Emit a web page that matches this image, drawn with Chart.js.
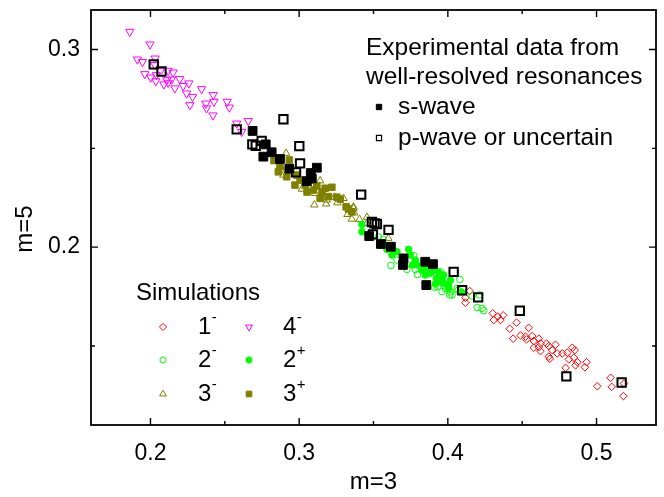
<!DOCTYPE html>
<html><head><meta charset="utf-8">
<script src="https://cdn.jsdelivr.net/npm/chart.js@4.4.1/dist/chart.umd.min.js"></script>
<style>html,body{margin:0;padding:0;background:#fff;}canvas{display:block;}</style>
</head><body>
<canvas id="c" width="664" height="497"></canvas>
<script>
// ---- axis ticks ----
const xMajorTicks = [0.2, 0.3, 0.4, 0.5];
const xMinorTicks = [0.25, 0.35, 0.45];
const yMajorTicks = [0.2, 0.3];
const yMinorTicks = [0.15, 0.25];
const xTitle = 'm=3';
const yTitle = 'm=5';

// ---- series: [m=3, m=5] ----
const sim1Minus = [[0.4147,0.1778],[0.4118,0.1744],[0.4118,0.1719],[0.4302,0.1665],[0.4336,0.1649],[0.4372,0.1655],[0.4309,0.1631],[0.4354,0.1631],[0.4462,0.1618],[0.4416,0.1587],[0.4544,0.1592],[0.4489,0.1553],[0.4522,0.1547],[0.4439,0.1537],[0.4567,0.1550],[0.4529,0.1533],[0.4578,0.1525],[0.4612,0.1537],[0.4623,0.1513],[0.4578,0.1491],[0.4612,0.1494],[0.4664,0.1512],[0.4679,0.1499],[0.4623,0.1474],[0.4702,0.1479],[0.4724,0.1506],[0.4736,0.1462],[0.4770,0.1462],[0.4803,0.1466],[0.4837,0.1491],[0.4854,0.1479],[0.4814,0.1432],[0.4848,0.1441],[0.4871,0.1418],[0.4859,0.1402],[0.4679,0.1446],[0.4686,0.1435],[0.4792,0.1389],[0.4922,0.1392],[0.4933,0.1418],[0.5095,0.1339],[0.5102,0.1293],[0.5005,0.1296],[0.5185,0.1310],[0.5181,0.1246]];
const sim2Minus = [[0.3617,0.1907],[0.3725,0.1887],[0.3781,0.1887],[0.3796,0.1861],[0.3770,0.1957],[0.3931,0.1800],[0.3949,0.1875],[0.4080,0.1837],[0.3983,0.1791],[0.4028,0.1758],[0.4069,0.1782],[0.4163,0.1753],[0.4197,0.1695],[0.4230,0.1690],[0.4017,0.1774],[0.3534,0.2052],[0.3658,0.1935],[0.3911,0.1797],[0.3961,0.1775],[0.4012,0.1758],[0.4062,0.1791],[0.4214,0.1758],[0.4241,0.1678],[0.3565,0.2039]];
const sim3Minus = [[0.2912,0.2475],[0.2876,0.2404],[0.2894,0.2365],[0.3018,0.2294],[0.3073,0.2303],[0.3141,0.2336],[0.3107,0.2272],[0.3152,0.2259],[0.3186,0.2239],[0.3237,0.2253],[0.3298,0.2247],[0.3102,0.2214],[0.3181,0.2219],[0.3257,0.2225],[0.3365,0.2197],[0.3325,0.2166],[0.3354,0.2142],[0.3406,0.2141],[0.3456,0.2151],[0.3365,0.2204],[0.3370,0.2174],[0.3456,0.2120],[0.3600,0.2045]];
const sim4Minus = [[0.1861,0.3090],[0.1997,0.3026],[0.1912,0.2950],[0.1946,0.2937],[0.2031,0.2955],[0.1962,0.2876],[0.2002,0.2859],[0.2040,0.2871],[0.2067,0.2891],[0.2119,0.2893],[0.2152,0.2884],[0.2090,0.2824],[0.2119,0.2832],[0.2142,0.2849],[0.2164,0.2804],[0.2197,0.2851],[0.2220,0.2816],[0.2258,0.2829],[0.2243,0.2778],[0.2283,0.2761],[0.2344,0.2800],[0.2265,0.2719],[0.2373,0.2727],[0.2377,0.2703],[0.2422,0.2770],[0.2427,0.2736],[0.2516,0.2736],[0.2530,0.2707],[0.2420,0.2667],[0.2580,0.2626],[0.2613,0.2584],[0.2658,0.2639],[0.2036,0.2840],[0.2110,0.2845],[0.2029,0.2922]];
const sim2Plus = [[0.3422,0.2115],[0.3422,0.2078],[0.3590,0.1989],[0.3624,0.1960],[0.3658,0.1977],[0.3736,0.1989],[0.3747,0.1960],[0.3781,0.1935],[0.3792,0.1910],[0.3826,0.1884],[0.3882,0.1868],[0.3923,0.1842],[0.3961,0.1837],[0.4005,0.1791],[0.3860,0.1896],[0.3904,0.1884],[0.3972,0.1859],[0.3916,0.1813],[0.3949,0.1824],[0.3972,0.1817],[0.4005,0.1808],[0.3949,0.1826],[0.4092,0.1773],[0.3761,0.1910],[0.3848,0.1859],[0.3936,0.1874],[0.4017,0.1833]];
const sim3Plus = [[0.2831,0.2438],[0.2860,0.2381],[0.2934,0.2441],[0.2916,0.2356],[0.3006,0.2339],[0.3040,0.2314],[0.3119,0.2310],[0.3175,0.2298],[0.3141,0.2247],[0.3220,0.2303],[0.3197,0.2256],[0.3253,0.2253],[0.3276,0.2243],[0.3332,0.2193],[0.3354,0.2179],[0.2984,0.2365],[0.3096,0.2289],[0.3316,0.2204],[0.2972,0.2314],[0.3073,0.2339],[0.3154,0.2279],[0.2871,0.2409],[0.3053,0.2279]];
const expSWave = [[0.2687,0.2588],[0.2775,0.2520],[0.2815,0.2480],[0.2759,0.2458],[0.2871,0.2446],[0.2934,0.2397],[0.3119,0.2402],[0.3078,0.2375],[0.3051,0.2334],[0.3085,0.2348],[0.3471,0.2056],[0.3550,0.2016],[0.3617,0.2002],[0.3702,0.1943],[0.3698,0.1910],[0.3848,0.1926],[0.3900,0.1914],[0.3855,0.1808]];
const expPWave = [[0.2022,0.2925],[0.2074,0.2889],[0.2580,0.2596],[0.2894,0.2647],[0.2748,0.2538],[0.2685,0.2520],[0.2708,0.2513],[0.3001,0.2511],[0.3006,0.2424],[0.2979,0.2378],[0.3417,0.2266],[0.3489,0.2127],[0.3507,0.2120],[0.3523,0.2117],[0.3601,0.2087],[0.3496,0.2065],[0.4039,0.1875],[0.4096,0.1782],[0.4204,0.1746],[0.4484,0.1678],[0.4797,0.1346],[0.5169,0.1315]];

const FONT = "'Liberation Sans', Arial, sans-serif";
const RED='#ff0000', GREEN='#00ff00', OLIVE='#808000', MAGENTA='#ff00ff', BLACK='#000000', NONE='rgba(0,0,0,0)';
const pts = a => a.map(p => ({x:p[0], y:p[1]}));

function ds(label, data, style, r, border, fill, bw, order, rot){
  return {label, data: pts(data), pointStyle: style, pointRadius: r, pointHoverRadius: r,
    pointBorderColor: border, pointBackgroundColor: fill, pointBorderWidth: bw,
    pointRotation: rot || 0, showLine: false, order};
}

const datasets = [
  ds('1-', sim1Minus, 'rectRot', 3.8, RED, NONE, 1, 8),
  ds('2-', sim2Minus, 'circle', 3.3, GREEN, NONE, 1, 7),
  ds('3-', sim3Minus, 'triangle', 4.3, OLIVE, NONE, 1, 6),
  ds('4-', sim4Minus, 'triangle', 4.8, MAGENTA, NONE, 1, 5, 180),
  ds('2+', sim2Plus, 'circle', 3.3, GREEN, GREEN, 1, 4),
  ds('3+', sim3Plus, 'rect', 4.6, OLIVE, OLIVE, 1, 3),
  ds('s-wave', expSWave, 'rect', 6.2, BLACK, BLACK, 1, 2),
  ds('p-wave or uncertain', expPWave, 'rect', 5.9, BLACK, NONE, 2, 1)
];

function marker(ctx, style, x, y, r, stroke, fill, lw, rot){
  ctx.save();
  ctx.translate(x, y);
  if (rot) ctx.rotate(rot * Math.PI / 180);
  ctx.beginPath();
  if (style === 'circle') ctx.arc(0, 0, r, 0, Math.PI*2);
  else if (style === 'rect') { const s = r*Math.SQRT1_2; ctx.rect(-s, -s, 2*s, 2*s); }
  else if (style === 'rectRot') { ctx.moveTo(-r,0); ctx.lineTo(0,-r); ctx.lineTo(r,0); ctx.lineTo(0,r); ctx.closePath(); }
  else if (style === 'triangle') { for (let i=0;i<3;i++){ const a=i*2*Math.PI/3; const px=Math.sin(a)*r, py=-Math.cos(a)*r; i?ctx.lineTo(px,py):ctx.moveTo(px,py);} ctx.closePath(); }
  ctx.fillStyle = fill; ctx.fill();
  ctx.strokeStyle = stroke; ctx.lineWidth = lw; ctx.stroke();
  ctx.restore();
}

const framePlugin = {
  id: 'frame',
  afterDatasetsDraw(chart){
    const {ctx, chartArea: a, scales: {x, y}} = chart;
    ctx.save();
    ctx.strokeStyle = '#000'; ctx.lineWidth = 1.8;
    ctx.strokeRect(a.left, a.top, a.right - a.left, a.bottom - a.top);
    ctx.lineWidth = 1.4;
    ctx.beginPath();
    const xt = (v, len) => { const p = x.getPixelForValue(v); ctx.moveTo(p, a.bottom); ctx.lineTo(p, a.bottom - len); ctx.moveTo(p, a.top); ctx.lineTo(p, a.top + len); };
    const yt = (v, len) => { const p = y.getPixelForValue(v); ctx.moveTo(a.left, p); ctx.lineTo(a.left + len, p); ctx.moveTo(a.right, p); ctx.lineTo(a.right - len, p); };
    xMajorTicks.forEach(v => xt(v, 7)); xMinorTicks.forEach(v => xt(v, 4));
    yMajorTicks.forEach(v => yt(v, 7)); yMinorTicks.forEach(v => yt(v, 4));
    ctx.stroke();
    // y axis title
    ctx.fillStyle = '#000';
    ctx.font = '24px ' + FONT;
    ctx.textAlign = 'center';
    ctx.textBaseline = 'middle';
    ctx.translate(25, 229);
    ctx.rotate(-Math.PI / 2);
    ctx.fillText(yTitle, 0, 0);
    ctx.restore();
  }
};

const legendPlugin = {
  id: 'customLegend',
  afterDraw(chart){
    const ctx = chart.ctx;
    ctx.save();
    ctx.fillStyle = '#000';
    ctx.textBaseline = 'middle';
    ctx.textAlign = 'left';
    ctx.font = '24.5px ' + FONT;
    ctx.fillText('Experimental data from', 366, 48);
    ctx.fillText('well-resolved resonances', 366, 77);
    marker(ctx, 'rect', 379, 107, 3.8, BLACK, BLACK, 1);
    ctx.fillStyle = '#000';
    ctx.fillText('s-wave', 398, 107);
    marker(ctx, 'rect', 379, 138, 3.6, BLACK, NONE, 1.2);
    ctx.fillStyle = '#000';
    ctx.fillText('p-wave or uncertain', 398, 138);

    ctx.font = '24px ' + FONT;
    ctx.fillText('Simulations', 136, 293);
    const rows = [
      [163, 327, 'rectRot', 3.6, RED, NONE, 0, '1', '-', 198],
      [249, 327, 'triangle', 4.0, MAGENTA, NONE, 180, '4', '-', 283],
      [163, 360, 'circle', 3.1, GREEN, NONE, 0, '2', '-', 198],
      [249, 360, 'circle', 3.1, GREEN, GREEN, 0, '2', '+', 283],
      [163, 394, 'triangle', 3.9, OLIVE, NONE, 0, '3', '-', 198],
      [249, 394, 'rect', 4.0, OLIVE, OLIVE, 0, '3', '+', 283]
    ];
    rows.forEach(r => {
      marker(ctx, r[2], r[0], r[1], r[3], r[4], r[5], 1, r[6]);
      ctx.fillStyle = '#000';
      ctx.font = '24px ' + FONT;
      ctx.fillText(r[7], r[9], r[1]);
      const w = ctx.measureText(r[7]).width;
      ctx.font = '15px ' + FONT;
      ctx.fillText(r[8], r[9] + w + 0.5, r[1] - 9);
    });
    ctx.restore();
  }
};

new Chart(document.getElementById('c'), {
  type: 'scatter',
  data: { datasets },
  options: {
    responsive: false,
    animation: false,
    devicePixelRatio: 1,
    layout: { padding: { top: 10, right: 8, left: 0, bottom: 0 } },
    plugins: { legend: { display: false }, tooltip: { enabled: false } },
    scales: {
      x: {
        type: 'linear', min: 0.16, max: 0.54,
        grid: { display: false, drawTicks: false }, border: { display: false },
        afterBuildTicks: s => { s.ticks = xMajorTicks.map(v => ({value: v})); },
        afterFit: s => { s.height = 72; s.paddingLeft = 0; s.paddingRight = 0; },
        ticks: { color: '#000', padding: 15, font: { family: FONT, size: 23 }, callback: v => v.toFixed(1), maxRotation: 0 },
        title: { display: true, text: xTitle, color: '#000', font: { family: FONT, size: 24 }, padding: { top: 0, bottom: 0 } }
      },
      y: {
        type: 'linear', min: 0.11, max: 0.32,
        grid: { display: false, drawTicks: false }, border: { display: false },
        afterBuildTicks: s => { s.ticks = yMajorTicks.map(v => ({value: v})); },
        afterFit: s => { s.width = 91; s.paddingTop = 0; s.paddingBottom = 0; },
        ticks: { color: '#000', padding: 11, font: { family: FONT, size: 23 }, callback: v => v.toFixed(1) },
        title: { display: false, text: yTitle }
      }
    }
  },
  plugins: [framePlugin, legendPlugin]
});
</script>
</body></html>
